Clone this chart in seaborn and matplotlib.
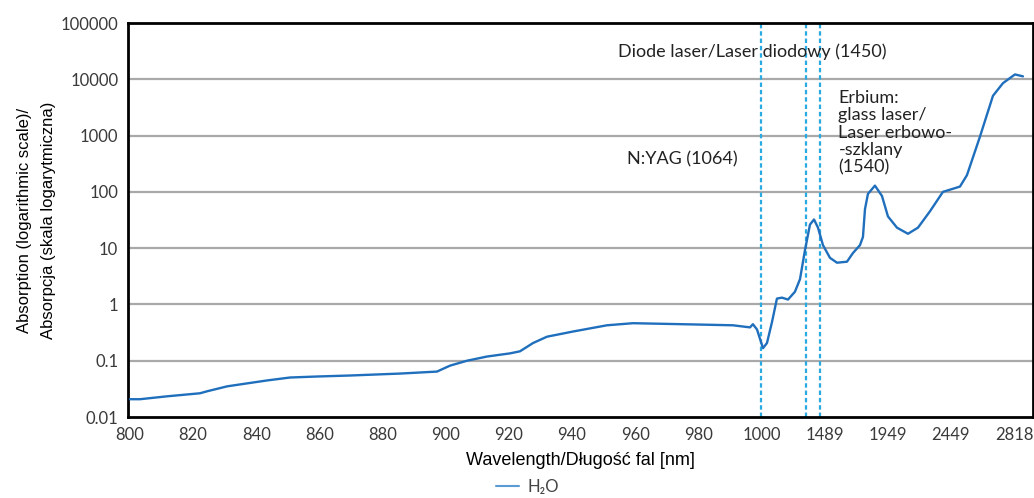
import numpy as np
import pandas as pd
import matplotlib
matplotlib.use("Agg")
import matplotlib.pyplot as plt
import seaborn as sns

# ---- data (x in axis-position units: tick index 0..14) ----
tick_labels = ["800", "820", "840", "860", "880", "900", "920", "940", "960",
               "980", "1000", "1489", "1949", "2449", "2818"]
y_ticks = [0.01, 0.1, 1, 10, 100, 1000, 10000, 100000]
y_tick_labels = ["0.01", "0.1", "1", "10", "100", "1000", "10000", "100000"]

pos = [0.0, 0.158, 0.586, 1.108, 1.219, 1.536, 1.742, 2.169, 2.534, 2.961,
       3.484, 4.276, 4.861, 5.067, 5.337, 5.653, 6.017, 6.176, 6.382, 6.603,
       7.015, 7.553, 7.965, 8.757, 9.549, 9.818, 9.865, 9.929, 10.024, 10.087,
       10.166, 10.245, 10.325, 10.420, 10.53, 10.61, 10.689, 10.768, 10.832, 10.895,
       10.974, 11.085, 11.196, 11.354, 11.449, 11.56, 11.607, 11.639, 11.686, 11.797,
       11.908, 12.003, 12.146, 12.32, 12.478, 12.668, 12.874, 13.143, 13.254, 13.46,
       13.666, 13.824, 14.014, 14.141]
absorption = [0.0207, 0.0207, 0.0233, 0.0264, 0.0286, 0.035, 0.0379, 0.0446, 0.0503, 0.0524,
              0.0546, 0.0591, 0.0641, 0.0817, 0.1, 0.1186, 0.135, 0.147, 0.206, 0.267,
              0.330, 0.426, 0.464, 0.445, 0.426, 0.391, 0.445, 0.359, 0.167, 0.206,
              0.484, 1.27, 1.32, 1.22, 1.68, 2.81, 9.24, 26.2, 32.3, 23.1,
              11.3, 6.72, 5.51, 5.74, 8.2, 11.3, 15.8, 49.1, 92, 129,
              84.6, 36.6, 23.1, 18.0, 23.1, 45.1, 100, 124, 198, 957,
              5090, 8530, 12200, 11270]

laser_pos = [10.0, 10.70, 10.93]  # N:YAG (1064), Diode (1450), Erbium (1540)

df = pd.DataFrame({"pos": pos, "absorption": absorption})

# ---- figure ----
sns.set_style("white")
plt.rcParams["font.family"] = ["Lato", "DejaVu Sans"]

fig = plt.figure(figsize=(10.34, 4.98), dpi=100)
ax = fig.add_axes([128 / 1034, 1 - 417 / 498, 905 / 1034, 394 / 498])

ax.set_yscale("log")
ax.set_ylim(0.01, 100000)
ax.set_xlim(-0.032, 14.30)

for yv in y_ticks[1:-1]:
    ax.axhline(yv, color="#a9a9a9", lw=1.6, zorder=1)

for xv in laser_pos:
    ax.axvline(xv, color="#29abe2", lw=1.6, linestyle=(0, (2.0, 1.3)), zorder=2)

sns.lineplot(data=df, x="pos", y="absorption", ax=ax, sort=False,
             color="#1f6fbd", lw=1.7, label="H\u2082O", zorder=3)

ax.set_xticks(range(len(tick_labels)))
ax.set_xticklabels(tick_labels)
ax.set_yticks(y_ticks)
ax.set_yticklabels(y_tick_labels)
ax.minorticks_off()
ax.tick_params(axis="both", length=0, labelsize=12, labelcolor="#3a3a3a")
ax.tick_params(axis="x", pad=7)
ax.tick_params(axis="y", pad=7)

for sp in ax.spines.values():
    sp.set_visible(True)
    sp.set_color("black")
    sp.set_linewidth(2)

ax.set_xlabel("Wavelength/Długość fal [nm]", family="Liberation Sans", fontsize=13,
              color="black", labelpad=7)
ax.set_ylabel("Absorption (logarithmic scale)/\nAbsorpcja (skala logarytmiczna)",
              family="Liberation Sans", fontsize=12, color="black", labelpad=3,
              linespacing=1.8)

ax.text(0.541, 0.927, "Diode laser/Laser diodowy (1450)", transform=ax.transAxes,
        ha="left", va="center", fontsize=13, color="#222222")
ax.text(0.551, 0.655, "N:YAG (1064)", transform=ax.transAxes,
        ha="left", va="center", fontsize=13, color="#222222")
ax.text(0.785, 0.83, "Erbium:\nglass laser/\nLaser erbowo-\n-szklany\n(1540)",
        transform=ax.transAxes, ha="left", va="top", fontsize=13,
        color="#222222", linespacing=1.1)

leg = ax.legend(loc="center", bbox_to_anchor=(0.51, 0.022), bbox_transform=fig.transFigure,
                frameon=False, fontsize=12, handlelength=1.4, handletextpad=0.5)
for line in leg.get_lines():
    line.set_color("#5b9bd5")
    line.set_linewidth(1.5)
for t in leg.get_texts():
    t.set_color("#444444")

fig.savefig("out.png", dpi=100)
